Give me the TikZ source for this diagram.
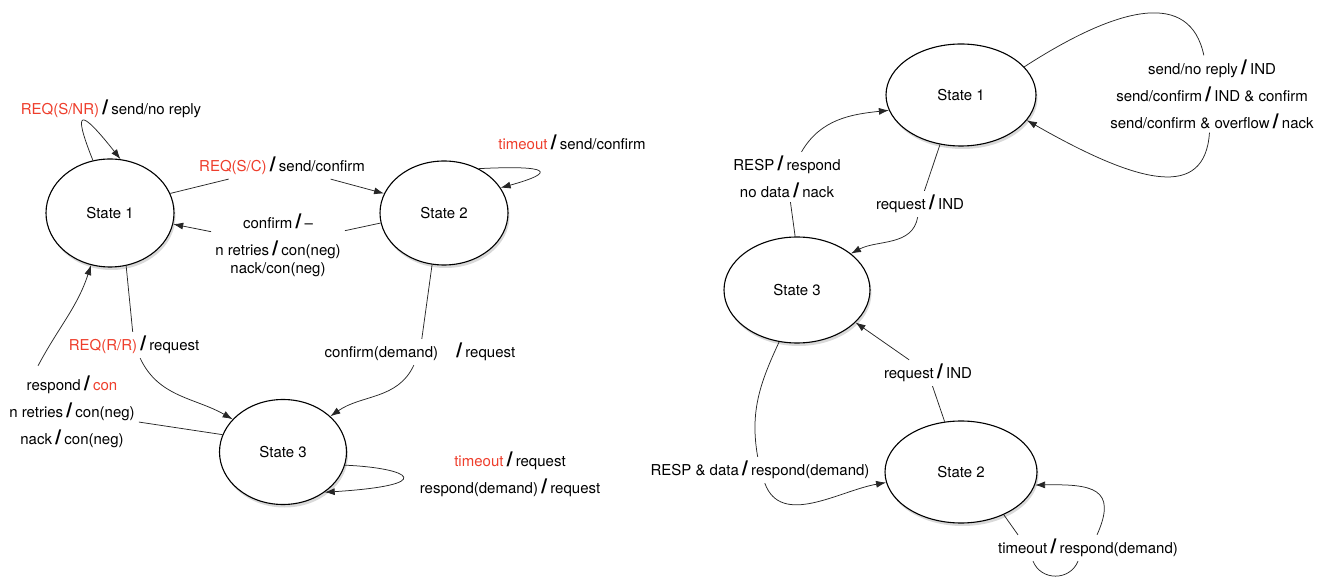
\documentclass[tikz,border=0pt]{standalone}
\usepackage{fontspec}
\setmainfont{TeX Gyre Heros}
\usetikzlibrary{arrows.meta,shapes.geometric,shadows}
\definecolor{trig}{RGB}{238,62,44}
\newcommand{\act}{\hspace{0.22em}{\fontsize{20.5}{20}\selectfont\bfseries /}\hspace{0.22em}}

\begin{document}
\begin{tikzpicture}[x=1pt, y=1pt,
    state/.style={ellipse, draw, line width=1.1pt, fill=white, font=\fontsize{15}{17}\selectfont,
        drop shadow={opacity=0.3, shadow xshift=1.5pt, shadow yshift=-3pt}},
    lbl/.style={align=center, inner sep=4pt, font=\fontsize{15}{27}\selectfont},
    line/.style={line width=0.75pt, black!85},
    arrow/.style={line, -{Latex[length=10pt, width=7pt]}}
]
\useasboundingbox (0,0) rectangle (1329,578);

% left machine
\node[state, minimum width=128pt, minimum height=108pt] (L1) at (110,365) {State 1};
\node[state, minimum width=128pt, minimum height=104pt] (L2) at (444,365) {State 2};
\node[state, minimum width=127pt, minimum height=105pt] (L3) at (283,126) {State 3};

\node[lbl] (lSNR) at (111,469) {\textcolor{trig}{REQ(S/NR)}\act send/no reply};
\node[lbl] (lSC)  at (282,412) {\textcolor{trig}{REQ(S/C)}\act send/confirm};
\node[lbl] (lTOa) at (572,436) {\textcolor{trig}{timeout}\act send/confirm};
\node[lbl, font=\fontsize{15}{18}\selectfont] (lCF) at (278,333)
    {confirm\act --\\[9pt] n retries\act con(neg)\\ nack/con(neg)};
\node[lbl] (lRR)  at (134,233) {\textcolor{trig}{REQ(R/R)}\act request};
\node[lbl] (lRC)  at (72,166) {respond\act \textcolor{trig}{con}\\ n retries\act con(neg)\\ nack\act con(neg)};
\node[lbl] (lCD)  at (420,226) {confirm(demand)\hspace{1em}\act request};
\node[lbl] (lTOb) at (510,104) {\textcolor{trig}{timeout}\act request\\ respond(demand)\act request};

% right machine
\node[state, minimum width=150pt, minimum height=102pt] (R1) at (961,483) {State 1};
\node[state, minimum width=146pt, minimum height=106pt] (R3) at (797,288) {State 3};
\node[state, minimum width=152pt, minimum height=102pt] (R2) at (961,106) {State 2};

\node[lbl] (lR1)   at (1212,484) {send/no reply\act IND\\ send/confirm\act IND \& confirm\\
    send/confirm \& overflow\act nack};
\node[lbl] (lRI1)  at (920,374) {request\act IND};
\node[lbl] (lRESP) at (787,401) {RESP\act respond\\ no data\act nack};
\node[lbl] (lRI2)  at (928,205) {request\act IND};
\node[lbl] (lRD)   at (760,108) {RESP \& data\act respond(demand)};
\node[lbl] (lTR)   at (1088,30) {timeout\act respond(demand)};

% transitions
\foreach \a/\l/\b in {L1.18/lSC/L2.162, L2.189/lCF/L1.-10, R2.108/lRI2/R3.-29}
    \draw[arrow] (\a) -- (\l) -- (\b);

\draw[arrow] (L1.108) .. controls (72,470) and (80,470) .. (L1.79);
\draw[arrow] (L2.52) .. controls (550,413) and (558,406) .. (L2.24);
\draw[arrow] (L3.-12) .. controls (410,110) and (440,93) .. (L3.-44);
\draw[arrow] (L1.-73) -- (lRR) to[out=-65, in=150] (L3.147);
\draw[arrow] (L3.164) -- (lRC) ([xshift=-34pt, yshift=6pt]lRC.north) to[out=62, in=-108] (L1.-110);
\draw[arrow] (L2.-103) -- (lCD) to[out=-115, in=35] (L3.37);

\draw[line] (R1.24) .. controls (1120,573) and (1190,588) .. (lR1);
\draw[arrow] (lR1) .. controls (1205,378) and (1140,393) .. (R1.-21);
\draw[arrow] (R1.-113) -- (lRI1) to[out=-100, in=28] (R3.34);
\draw[arrow] (R3.92) -- (lRESP) to[out=60, in=186] (R1.192);
\draw[arrow] (R3.-109) to[out=-115, in=100] (lRD) to[out=-70, in=190] (R2.188);
\draw[arrow] (R2.-45) -- ([xshift=-70pt]lTR.north)
    ([xshift=-55pt]lTR.south) .. controls +(8,-20) and +(-8,-20) .. ([xshift=-10pt]lTR.south)
    ([xshift=9pt]lTR.north) .. controls (1118,90) and (1092,94) .. (R2.-10);
\end{tikzpicture}
\end{document}
